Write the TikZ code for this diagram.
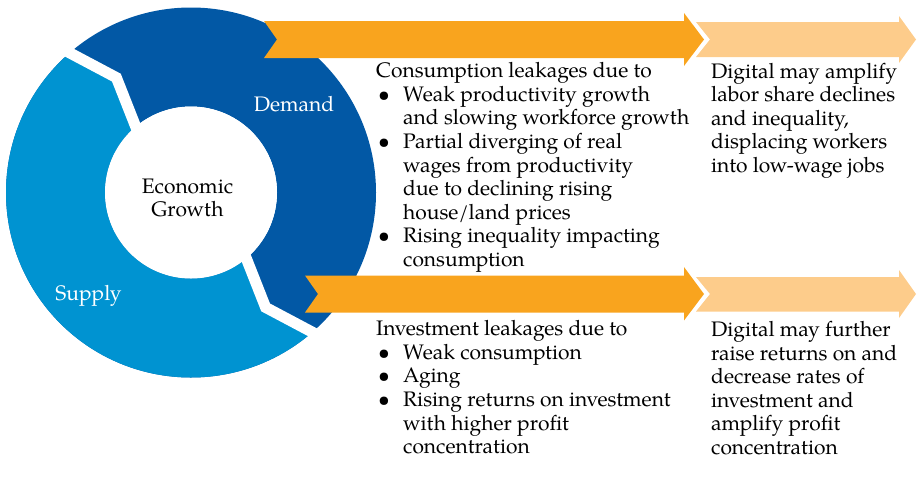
\documentclass[tikz,border=0pt]{standalone}
\usepackage{fontspec}
\setmainfont{TeX Gyre Pagella}
\definecolor{demandblue}{RGB}{2,88,165}
\definecolor{supplyblue}{RGB}{0,147,209}
\definecolor{orangeA}{RGB}{249,164,30}
\definecolor{orangeB}{RGB}{253,204,139}
\newcommand\bitem{\makebox[27pt][l]{\hspace{2pt}\textbullet}}
\newcommand\bcont{\hspace*{27pt}}
\begin{document}
\begin{tikzpicture}[x=1pt,y=-1pt,
  txt/.style={inner sep=0pt, font=\fontsize{21}{23.6}\selectfont, text=black},
  ringlbl/.style={inner sep=0pt, font=\fontsize{21}{23.6}\selectfont, text=white},
  gapline/.style={draw=white, line width=11pt, line join=miter, miter limit=10}]
\useasboundingbox (0,0) rectangle (918,480);
% ring
\begin{scope}[shift={(191,192.5)}]
  \fill[demandblue, even odd rule] (0,0) circle[radius=185] (0,0) circle[radius=86];
  \fill[supplyblue] (48:185) arc[start angle=48, end angle=228, radius=185]
     -- (237:137) -- (228:86) arc[start angle=228, end angle=48, radius=86]
     -- (57:137) -- cycle;
  \draw[gapline] (228:78) -- (237:137) -- (228:194);
  \draw[gapline] (48:78) -- (57:137) -- (48:194);
  \fill[white] (0,0) circle[radius=86];
\end{scope}
% arrows
\fill[orangeA] (264,21) -- (684,21) -- (684,13) -- (704,39.5) -- (684,66) -- (684,58) -- (264,58) -- (277,39.5) -- cycle;
\fill[orangeB] (696,22) -- (899,22) -- (899,16) -- (916,39.5) -- (899,63) -- (899,57) -- (696,57) -- (710,39.5) -- cycle;
\fill[orangeA] (305,275.5) -- (684,275.5) -- (684,267) -- (704,294) -- (684,320.5) -- (684,312.5) -- (305,312.5) -- (318,294) -- cycle;
\fill[orangeB] (696,277) -- (899,277) -- (899,270) -- (916,294) -- (899,318) -- (899,311.5) -- (696,311.5) -- (710,294) -- cycle;
% ring labels
\node[ringlbl, anchor=base] (demand) at (294,111) {Demand};
\node[ringlbl, anchor=base] (supply) at (88.5,300) {Supply};
\node[txt, anchor=base] (growth) at (187.5,193) {\begin{tabular}[t]{@{}c@{}}Economic\\Growth\end{tabular}};
% text blocks
\node[txt, anchor=base west] (cons) at (376,77.7) {\begin{tabular}[t]{@{}l@{}}
Consumption leakages due to\\
\bitem Weak productivity growth\\
\bcont and slowing workforce growth\\
\bitem Partial diverging of real\\
\bcont wages from productivity\\
\bcont due to declining rising\\
\bcont house/land prices\\
\bitem Rising inequality impacting\\
\bcont consumption
\end{tabular}};
\node[txt, anchor=base west] (inv) at (376,335.7) {\begin{tabular}[t]{@{}l@{}}
Investment leakages due to\\
\bitem Weak consumption\\
\bitem Aging\\
\bitem Rising returns on investment\\
\bcont with higher profit\\
\bcont concentration
\end{tabular}};
\node[txt, anchor=base west] (digA) at (711,78) {\begin{tabular}[t]{@{}l@{}}
Digital may amplify\\
labor share declines\\
and inequality,\\
displacing workers\\
into low-wage jobs
\end{tabular}};
\node[txt, anchor=base west] (digB) at (711,336.5) {\begin{tabular}[t]{@{}l@{}}
Digital may further\\
raise returns on and\\
decrease rates of\\
investment and\\
amplify profit\\
concentration
\end{tabular}};
\end{tikzpicture}
\end{document}
